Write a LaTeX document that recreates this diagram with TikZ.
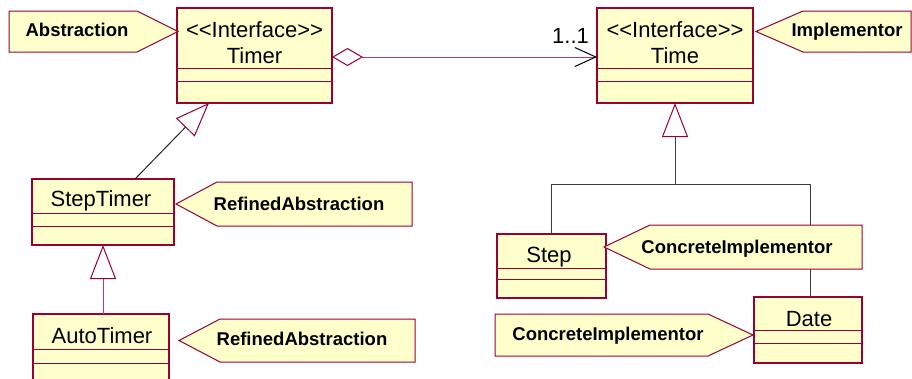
\documentclass[tikz,border=0pt]{standalone}
\usepackage{fontspec}
\setmainfont{Liberation Sans}
\usetikzlibrary{arrows.meta,calc}
\definecolor{umlred}{RGB}{153,0,51}
\definecolor{umlfill}{RGB}{255,255,204}
\definecolor{assocpink}{RGB}{190,60,100}
\definecolor{treegrey}{RGB}{60,60,60}
\begin{document}
\begin{tikzpicture}[x=1pt,y=-1pt,
  classbox/.style={draw=umlred, fill=umlfill, line width=1.2pt, inner sep=0pt, outer sep=0pt},
  sepline/.style={draw=umlred, line width=1pt},
  clsname/.style={font=\fontsize{22}{26}\selectfont, anchor=base, inner sep=0pt},
  notebox/.style={draw=umlred, fill=umlfill, line width=1pt, line join=miter},
  notetext/.style={font=\fontsize{18.5}{22}\selectfont\bfseries, anchor=base, inner sep=0pt},
  gentip/.style={-{Triangle[open,length=34pt,width=26pt,color=umlred]}},
  assoc/.style={draw=assocpink, line width=1pt},
  blackline/.style={draw=black!85, line width=1pt},
  pinkline/.style={draw=assocpink, line width=1pt},
  treeline/.style={draw=treegrey, line width=1pt}
]
\clip (0,0) rectangle (912,378);

% class boxes
\node[classbox, minimum width=155pt, minimum height=95pt] (timer) at (254.5,55.5) {};
\draw[sepline] (timer.west |- 0,68) -- (timer.east |- 0,68);
\draw[sepline] (timer.west |- 0,81) -- (timer.east |- 0,81);
\node[clsname] (timerst) at (254.5,37) {<\kern0pt<Interface>\kern0pt>};
\node[clsname] (timernm) at (254.5,63) {Timer};

\node[classbox, minimum width=156pt, minimum height=95pt] (time) at (675,55.5) {};
\draw[sepline] (time.west |- 0,68) -- (time.east |- 0,68);
\draw[sepline] (time.west |- 0,81) -- (time.east |- 0,81);
\node[clsname] (timest) at (675,37) {<\kern0pt<Interface>\kern0pt>};
\node[clsname] (timenm) at (675,63) {Time};

\node[classbox, minimum width=142pt, minimum height=66pt] (steptimer) at (103,212) {};
\draw[sepline] (steptimer.west |- 0,213) -- (steptimer.east |- 0,213);
\draw[sepline] (steptimer.west |- 0,226) -- (steptimer.east |- 0,226);
\node[clsname] (steptimernm) at (101,206) {StepTimer};

\node[classbox, minimum width=136pt, minimum height=76pt] (autotimer) at (101,352) {};
\draw[sepline] (autotimer.west |- 0,349) -- (autotimer.east |- 0,349);
\draw[sepline] (autotimer.west |- 0,363) -- (autotimer.east |- 0,363);
\node[clsname] (autotimernm) at (102,343) {AutoTimer};

\node[classbox, minimum width=109pt, minimum height=64pt] (step) at (551.5,266) {};
\draw[sepline] (step.west |- 0,268) -- (step.east |- 0,268);
\draw[sepline] (step.west |- 0,279) -- (step.east |- 0,279);
\node[clsname] (stepnm) at (549,262) {Step};

\node[classbox, minimum width=108pt, minimum height=66pt] (date) at (808,330) {};
\draw[sepline] (date.west |- 0,330) -- (date.east |- 0,330);
\draw[sepline] (date.west |- 0,343) -- (date.east |- 0,343);
\node[clsname] (datenm) at (809,326) {Date};

% connectors
\draw[assoc, {Diamond[open,length=31pt,width=18pt,color=umlred]}-{Straight Barb[length=21pt,width=19pt,color=black]}]
  ($(timer.east)+(0,1.5)$) -- ($(time.west)+(0,1.5)$);
\node[clsname] (mult) at (570.5,43) {1..1};

\draw[blackline, gentip] ($(steptimer.north)+(32,0)$) -- ($(timer.south)+(-45.5,0)$);
\draw[pinkline, gentip] (autotimer.north -| steptimer.south) -- (steptimer.south);

\coordinate (tj) at (675,184);
\draw[treeline] (step.north) |- (tj);
\draw[treeline] (tj) -| ($(date.north)+(2,0)$);
\draw[treeline, gentip] (tj) -- (time.south);

% notes
\draw[notebox] (9,11) -- (137,11) -- (178,31.5) -- (137,52) -- (9,52) -- cycle;
\node[notetext] (nabs) at (77,36) {Abstraction};

\draw[notebox] (911,11) -- (803,11) -- (756,31.5) -- (803,52) -- (911,52) -- cycle;
\node[notetext] (nimp) at (847,36) {Implementor};

\draw[notebox] (412,182) -- (217,182) -- (176,204) -- (217,226) -- (412,226) -- cycle;
\node[notetext] (nref1) at (299,210) {RefinedAbstraction};

\draw[notebox] (415,319) -- (220,319) -- (179,340.5) -- (220,362) -- (415,362) -- cycle;
\node[notetext] (nref2) at (302,345) {RefinedAbstraction};

\draw[notebox] (862,225) -- (650,225) -- (604,247) -- (650,269) -- (862,269) -- cycle;
\node[notetext] (ncon1) at (737,253) {ConcreteImplementor};

\draw[notebox] (495,314) -- (708,314) -- (753,335) -- (708,356) -- (495,356) -- cycle;
\node[notetext] (ncon2) at (608,340) {ConcreteImplementor};
\end{tikzpicture}
\end{document}
